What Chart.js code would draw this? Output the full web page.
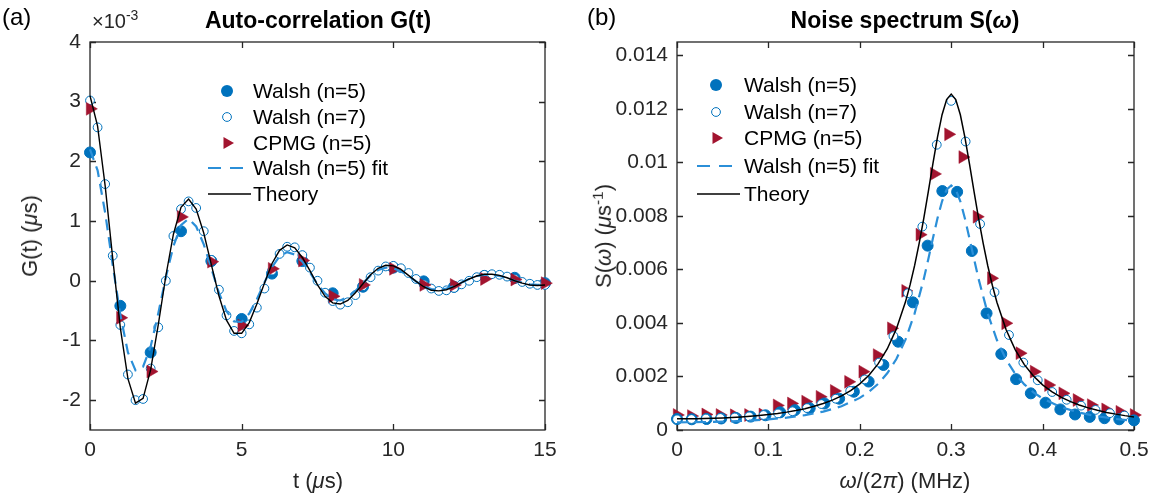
<!DOCTYPE html>
<html>
<head>
<meta charset="utf-8">
<script src="https://cdn.jsdelivr.net/npm/chart.js@4.4.1/dist/chart.umd.min.js"></script>
<style>
  body { margin: 0; background: #fff; font-family: "Liberation Sans", Arial, sans-serif; }
  #wrap { position: relative; width: 1157px; height: 501px; overflow: hidden; }
  canvas { position: absolute; top: 0; }
  .txt { position: absolute; white-space: nowrap; color: #000; }
  .title { font-weight: bold; font-size: 23px; transform: translate(-50%, -50%); }
  .xlab { font-size: 22px; transform: translate(-50%, -50%); color: #262626; }
  .ylab { font-size: 22px; transform: translate(-50%, -50%) rotate(-90deg); color: #262626; }
  .panel { font-size: 24px; }
  .legend { position: absolute; font-size: 21px; }
  .legend .row { position: absolute; left: 0; height: 24px; white-space: nowrap; }
  .legend svg { position: absolute; left: 0; top: 2px; }
  .legend span { position: absolute; top: 0; line-height: 24px; }
  sup { font-size: 70%; }
</style>
</head>
<body>
<div id="wrap">
  <canvas id="left" width="575" height="501" style="left:0;width:575px;height:501px"></canvas>
  <canvas id="right" width="582" height="501" style="left:575px;width:582px;height:501px"></canvas>

  <div class="txt panel" style="left:2px;top:3px">(a)</div>
  <div class="txt panel" style="left:587px;top:3px">(b)</div>
  <div class="txt" style="left:92px;top:7px;font-size:20px;color:#262626">&times;10<sup>-3</sup></div>

  <div class="txt title" style="left:318px;top:20px">Auto-correlation G(t)</div>
  <div class="txt title" style="left:905px;top:20px">Noise spectrum S(<i>&omega;</i>)</div>

  <div class="txt xlab" style="left:318px;top:481px">t (<i>&mu;</i>s)</div>
  <div class="txt xlab" style="left:905px;top:481px"><i>&omega;</i>/(2<i>&pi;</i>) (MHz)</div>
  <div class="txt ylab" style="left:30px;top:236px">G(t) (<i>&mu;</i>s)</div>
  <div class="txt ylab" style="left:603px;top:236px">S(<i>&omega;</i>) (<i>&mu;</i>s<sup>-1</sup>)</div>

  <div class="legend" id="legL" style="left:207px;top:0px"></div>
  <div class="legend" id="legR" style="left:696px;top:0px"></div>
</div>
<script>
// ---- panel (a): auto-correlation, values in units of 1e-3 us ----
const tGrid = [0, 0.25, 0.5, 0.75, 1, 1.25, 1.5, 1.75, 2, 2.25, 2.5, 2.75, 3, 3.25, 3.5, 3.75,
  4, 4.25, 4.5, 4.75, 5, 5.25, 5.5, 5.75, 6, 6.25, 6.5, 6.75, 7, 7.25, 7.5, 7.75,
  8, 8.25, 8.5, 8.75, 9, 9.25, 9.5, 9.75, 10, 10.25, 10.5, 10.75, 11, 11.25, 11.5, 11.75,
  12, 12.25, 12.5, 12.75, 13, 13.25, 13.5, 13.75, 14, 14.25, 14.5, 14.75, 15];
const gTheory = [3.10, 2.59, 1.59, 0.37, -0.79, -1.64, -2.05, -1.97, -1.49, -0.74, 0.08, 0.78, 1.23, 1.37, 1.20, 0.80,
  0.27, -0.25, -0.66, -0.88, -0.88, -0.70, -0.39, -0.04, 0.29, 0.51, 0.60, 0.55, 0.39, 0.17, -0.07, -0.26,
  -0.37, -0.39, -0.33, -0.20, -0.05, 0.10, 0.21, 0.26, 0.25, 0.19, 0.09, -0.01, -0.10, -0.16, -0.17, -0.15,
  -0.10, -0.03, 0.03, 0.08, 0.11, 0.11, 0.09, 0.05, 0.00, -0.04, -0.07, -0.08, -0.07];
const gWalsh7 = [3.02, 2.57, 1.62, 0.42, -0.74, -1.57, -2.00, -1.98, -1.47, -0.78, 0.00, 0.75, 1.20, 1.33, 1.22, 0.83,
  0.35, -0.15, -0.58, -0.84, -0.88, -0.73, -0.45, -0.13, 0.17, 0.45, 0.57, 0.56, 0.43, 0.22, 0.00, -0.20,
  -0.34, -0.40, -0.36, -0.24, -0.09, 0.06, 0.17, 0.24, 0.25, 0.21, 0.13, 0.03, -0.06, -0.13, -0.17, -0.16,
  -0.12, -0.06, 0.00, 0.06, 0.10, 0.11, 0.10, 0.07, 0.03, -0.02, -0.05, -0.07, -0.07];
const gFit = [2.20, 1.85, 1.14, 0.26, -0.57, -1.20, -1.50, -1.44, -1.10, -0.55, 0.06, 0.58, 0.93, 1.04, 0.91, 0.61,
  0.21, -0.20, -0.51, -0.68, -0.69, -0.55, -0.31, -0.03, 0.23, 0.41, 0.48, 0.44, 0.32, 0.14, -0.06, -0.21,
  -0.31, -0.33, -0.27, -0.17, -0.04, 0.09, 0.18, 0.22, 0.21, 0.16, 0.08, -0.01, -0.09, -0.14, -0.15, -0.13,
  -0.09, -0.03, 0.03, 0.08, 0.10, 0.10, 0.08, 0.05, 0.00, -0.03, -0.06, -0.07, -0.07];
const tPulse = [0, 1, 2, 3, 4, 5, 6, 7, 8, 9, 10, 11, 12, 13, 14, 15];
const gWalsh5 = [2.15, -0.42, -1.20, 0.83, 0.33, -0.64, 0.12, 0.33, -0.21, -0.10, 0.22, -0.01, -0.10, 0.08, 0.05, -0.04];
const gCPMG = [2.88, -0.62, -1.52, 1.07, 0.32, -0.75, 0.20, 0.34, -0.26, -0.07, 0.20, -0.07, -0.07, 0.03, 0.02, -0.04];
const tTicks = [0, 5, 10, 15];
const gTicks = [-2, -1, 0, 1, 2, 3, 4];

// ---- panel (b): noise spectrum ----
const wTheory = [0, 0.01, 0.02, 0.03, 0.04, 0.05, 0.06, 0.07, 0.08, 0.09, 0.1, 0.11, 0.12, 0.13, 0.14, 0.15,
  0.16, 0.17, 0.18, 0.19, 0.2, 0.21, 0.22, 0.23, 0.24, 0.25, 0.255, 0.26, 0.265, 0.27, 0.275, 0.28, 0.285,
  0.29, 0.295, 0.3, 0.305, 0.31, 0.315, 0.32, 0.325, 0.33, 0.335, 0.34, 0.345, 0.35, 0.36, 0.37, 0.38,
  0.39, 0.4, 0.41, 0.42, 0.43, 0.44, 0.45, 0.46, 0.47, 0.48, 0.49, 0.5];
const sTheory = [0.000416, 0.000417, 0.000421, 0.000428, 0.000437, 0.00045, 0.000467, 0.000486, 0.000511, 0.000541,
  0.000576, 0.000617, 0.000668, 0.000727, 0.000798, 0.000885, 0.000989, 0.001118, 0.001276, 0.001475,
  0.001725, 0.002049, 0.00247, 0.003028, 0.003778, 0.00479, 0.005423, 0.006151, 0.006983, 0.007912, 0.008917,
  0.009953, 0.010944, 0.011783, 0.01235, 0.012553, 0.012349, 0.01178, 0.010939, 0.009946, 0.008909, 0.007902,
  0.006971, 0.006138, 0.005408, 0.004773, 0.003757, 0.003004, 0.002442, 0.002017, 0.001689, 0.001434,
  0.001231, 0.001068, 0.000936, 0.000827, 0.000735, 0.000658, 0.000593, 0.000537, 0.000489];
const wFit = [0, 0.02, 0.04, 0.06, 0.08, 0.1, 0.12, 0.14, 0.16, 0.18, 0.2, 0.21, 0.22, 0.23, 0.24, 0.25,
  0.26, 0.27, 0.275, 0.28, 0.285, 0.29, 0.295, 0.3, 0.305, 0.31, 0.315, 0.32, 0.325, 0.33, 0.34, 0.35,
  0.36, 0.37, 0.38, 0.39, 0.4, 0.42, 0.44, 0.46, 0.48, 0.5];
const sFit = [0.000287, 0.000291, 0.000303, 0.000323, 0.000354, 0.000398, 0.000462, 0.000553, 0.000686, 0.000886,
  0.0012, 0.001427, 0.001724, 0.002118, 0.00265, 0.003375, 0.004359, 0.005647, 0.006392, 0.007165, 0.007912,
  0.008549, 0.008983, 0.009136, 0.008982, 0.008546, 0.007908, 0.007161, 0.006386, 0.005639, 0.00435, 0.003363,
  0.002636, 0.002101, 0.001705, 0.001406, 0.001177, 0.000856, 0.00065, 0.000511, 0.000412, 0.00034];
const wWalsh7 = [0, 0.0158, 0.0316, 0.0474, 0.0632, 0.0789, 0.0947, 0.1105, 0.1263, 0.1421, 0.1579, 0.1737,
  0.1895, 0.2053, 0.2211, 0.2368, 0.2526, 0.2684, 0.2842, 0.3, 0.3158, 0.3316, 0.3474, 0.3632, 0.3789,
  0.3947, 0.4105, 0.4263, 0.4421, 0.4579, 0.4737, 0.4895];
const sWalsh7 = [0.0004, 0.00041, 0.00043, 0.00045, 0.00047, 0.00051, 0.00056, 0.00062, 0.0007, 0.00082, 0.00097,
  0.00117, 0.00146, 0.00189, 0.00252, 0.00351, 0.00511, 0.0076, 0.01066, 0.0123, 0.01078, 0.0077, 0.00515,
  0.00355, 0.00252, 0.00186, 0.00142, 0.00113, 0.00091, 0.00075, 0.00063, 0.00054];
const wWalsh5 = [0, 0.0161, 0.0323, 0.0484, 0.0645, 0.0806, 0.0968, 0.1129, 0.129, 0.1452, 0.1613, 0.1774,
  0.1935, 0.2097, 0.2258, 0.2419, 0.2581, 0.2742, 0.2903, 0.3065, 0.3226, 0.3387, 0.3548, 0.371, 0.3871,
  0.4032, 0.4194, 0.4355, 0.4516, 0.4677, 0.4839, 0.5];
const sWalsh5 = [0.00041, 0.0004, 0.00041, 0.00043, 0.00045, 0.0005, 0.00055, 0.00066, 0.00074, 0.00081, 0.00099,
  0.00117, 0.00143, 0.00181, 0.00243, 0.0033, 0.00477, 0.00689, 0.00893, 0.0089, 0.00669, 0.00436, 0.00284,
  0.0019, 0.00137, 0.00102, 0.00077, 0.00058, 0.00049, 0.00044, 0.0004, 0.00036];
const wCPMG = [0, 0.0156, 0.0313, 0.0469, 0.0625, 0.0781, 0.0938, 0.1094, 0.125, 0.1406, 0.1563, 0.1719,
  0.1875, 0.2031, 0.2188, 0.2344, 0.25, 0.2656, 0.2813, 0.2969, 0.3125, 0.3281, 0.3438, 0.3594, 0.375,
  0.3906, 0.4063, 0.4219, 0.4375, 0.4531, 0.4688, 0.4844, 0.5];
const sCPMG = [0.00056, 0.00052, 0.00058, 0.00056, 0.00055, 0.00056, 0.00058, 0.00092, 0.00099, 0.00106, 0.00124,
  0.00146, 0.0018, 0.00218, 0.0028, 0.0038, 0.0052, 0.0073, 0.00957, 0.01105, 0.0102, 0.00797, 0.00567,
  0.00399, 0.00287, 0.00218, 0.00168, 0.00137, 0.00112, 0.00093, 0.00077, 0.00068, 0.00056];
const wTicks = [0, 0.1, 0.2, 0.3, 0.4, 0.5];
const sTicks = [0, 0.002, 0.004, 0.006, 0.008, 0.01, 0.012, 0.014];

const BLUE = '#0072BD';
const FITBLUE = '#2B8FD8';
const RED = '#A2142F';
const AXIS = '#262626';
const FONT = { family: '"Liberation Sans", Arial, sans-serif', size: 21 };

const pts = (xs, ys) => xs.map((x, i) => ({ x, y: ys[i] }));

// box with inward ticks on all four sides, under the data
const boxTicks = {
  id: 'boxTicks',
  beforeDatasetsDraw(chart) {
    const { ctx, chartArea: a, scales: { x, y } } = chart;
    ctx.save();
    ctx.strokeStyle = AXIS;
    ctx.lineWidth = 1.3;
    ctx.strokeRect(a.left, a.top, a.right - a.left, a.bottom - a.top);
    ctx.beginPath();
    x.ticks.forEach(t => {
      const px = Math.round(x.getPixelForValue(t.value)) + 0.5;
      ctx.moveTo(px, a.bottom); ctx.lineTo(px, a.bottom - 6);
      ctx.moveTo(px, a.top); ctx.lineTo(px, a.top + 6);
    });
    y.ticks.forEach(t => {
      const py = Math.round(y.getPixelForValue(t.value)) + 0.5;
      ctx.moveTo(a.left, py); ctx.lineTo(a.left + 6, py);
      ctx.moveTo(a.right, py); ctx.lineTo(a.right - 6, py);
    });
    ctx.stroke();
    ctx.restore();
  }
};

function makeChart(id, cfg) {
  return new Chart(document.getElementById(id), {
    type: 'scatter',
    data: { datasets: cfg.datasets },
    options: {
      responsive: false,
      animation: false,
      events: [],
      layout: { padding: { top: 42, right: cfg.padRight, left: 0, bottom: 0 } },
      plugins: { legend: { display: false }, tooltip: { enabled: false } },
      scales: {
        x: {
          type: 'linear', min: cfg.xMin, max: cfg.xMax,
          afterBuildTicks: s => { s.ticks = cfg.xTicks.map(v => ({ value: v })); },
          afterFit: s => { s.height = 71; },
          grid: { display: false, drawTicks: false },
          border: { display: false },
          ticks: { color: AXIS, font: FONT, padding: 8, maxRotation: 0, callback: v => String(v) }
        },
        y: {
          type: 'linear', min: cfg.yMin, max: cfg.yMax,
          afterBuildTicks: s => { s.ticks = cfg.yTicks.map(v => ({ value: v })); },
          afterFit: s => { s.width = cfg.yWidth; },
          grid: { display: false, drawTicks: false },
          border: { display: false },
          ticks: { color: AXIS, font: FONT, padding: 9, callback: v => String(+v.toFixed(4)) }
        }
      }
    },
    plugins: [boxTicks]
  });
}

const lineSet = (label, data, color, width, dash, order) => ({
  label, data, showLine: true, borderColor: color, borderWidth: width, borderDash: dash,
  pointRadius: 0, tension: 0, clip: false, order
});
const filled = (label, data, order) => ({
  label, data, pointStyle: 'circle', pointRadius: 5.5, pointBorderWidth: 1,
  pointBackgroundColor: BLUE, pointBorderColor: BLUE, clip: false, order
});
const open = (label, data, order) => ({
  label, data, pointStyle: 'circle', pointRadius: 4.4, pointBorderWidth: 1,
  pointBackgroundColor: '#fff', pointBorderColor: BLUE, clip: false, order
});
const tri = (label, data, order) => ({
  label, data, pointStyle: 'triangle', pointRotation: 90, pointRadius: 7.4, pointBorderWidth: 0.5,
  pointBackgroundColor: RED, pointBorderColor: RED, clip: false, order
});

makeChart('left', {
  xMin: 0, xMax: 15, yMin: -2.5, yMax: 4, xTicks: tTicks, yTicks: gTicks, yWidth: 90, padRight: 30,
  datasets: [
    filled('Walsh (n=5)', pts(tPulse, gWalsh5), 4),
    open('Walsh (n=7)', pts(tGrid, gWalsh7), 3),
    tri('CPMG (n=5)', pts(tPulse, gCPMG), 2),
    lineSet('Walsh (n=5) fit', pts(tGrid, gFit), FITBLUE, 2.2, [11, 7], 1),
    lineSet('Theory', pts(tGrid, gTheory), '#000', 1.4, [], 0)
  ]
});

makeChart('right', {
  xMin: 0, xMax: 0.5, yMin: 0, yMax: 0.0145, xTicks: wTicks, yTicks: sTicks, yWidth: 102, padRight: 23,
  datasets: [
    filled('Walsh (n=5)', pts(wWalsh5, sWalsh5), 3),
    open('Walsh (n=7)', pts(wWalsh7, sWalsh7), 2),
    tri('CPMG (n=5)', pts(wCPMG, sCPMG), 4),
    lineSet('Walsh (n=5) fit', pts(wFit, sFit), FITBLUE, 2.2, [11, 7], 1),
    lineSet('Theory', pts(wTheory, sTheory), '#000', 1.5, [], 0)
  ]
});

// legends (HTML, text stays real text)
const legendItems = [
  { text: 'Walsh (n=5)', svg: `<circle cx="20" cy="10" r="6" fill="${BLUE}"/>` },
  { text: 'Walsh (n=7)', svg: `<circle cx="20" cy="10" r="4.4" fill="#fff" stroke="${BLUE}" stroke-width="1"/>` },
  { text: 'CPMG (n=5)', svg: `<polygon points="27,10 16.5,4 16.5,16" fill="${RED}"/>` },
  { text: 'Walsh (n=5) fit', svg: `<line x1="1" y1="10" x2="44" y2="10" stroke="${FITBLUE}" stroke-width="2.2" stroke-dasharray="13 9"/>` },
  { text: 'Theory', svg: `<line x1="1" y1="10" x2="44" y2="10" stroke="#000" stroke-width="1.4"/>` }
];
function buildLegend(id, rows, textLeft) {
  const el = document.getElementById(id);
  el.innerHTML = legendItems.map((it, i) =>
    `<div class="row" style="top:${rows[i] - 12}px"><svg width="46" height="20">${it.svg}</svg>` +
    `<span style="left:${textLeft}px">${it.text}</span></div>`).join('');
}
buildLegend('legL', [91, 117, 143, 168, 194], 46);
buildLegend('legR', [85, 112, 138, 166, 194], 48);
</script>
</body>
</html>
